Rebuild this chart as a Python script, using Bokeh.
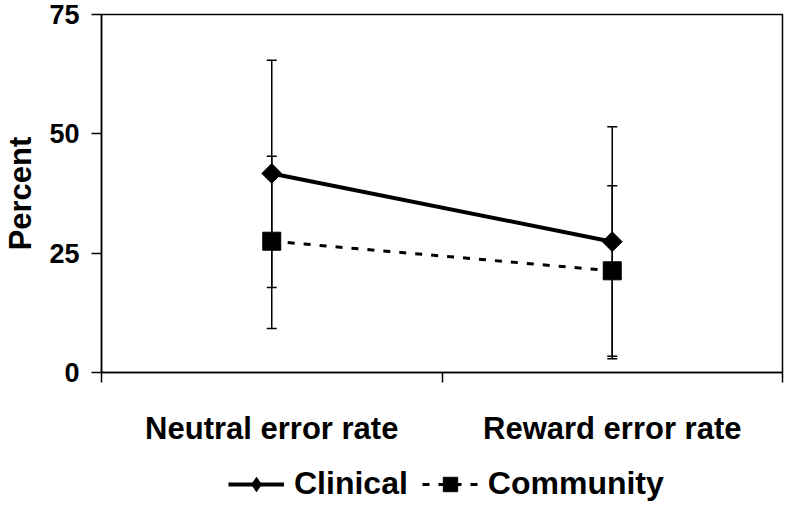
import numpy as np
from bokeh.plotting import figure
from bokeh.layouts import column
from bokeh.models import (Range1d, LinearAxis, FixedTicker, Whisker, TeeHead,
                          ColumnDataSource, Legend, LegendItem)
from bokeh.embed import file_html
from bokeh.resources import INLINE

# ---- data ----
categories = ["Neutral error rate", "Reward error rate"]
series_names = ["Clinical", "Community"]
clinical_mean = [41.7, 27.4]
clinical_upper = [65.4, 51.5]
clinical_lower = [17.8, 3.4]
community_mean = [27.5, 21.3]
community_upper = [45.3, 39.1]
community_lower = [9.2, 2.9]
y_ticks = [0, 25, 50, 75]
y_label = "Percent"

FONT = "Liberation Sans"
n = len(categories)
x_pos = [i + 0.5 for i in range(n)]
boundaries = list(range(n + 1))

W = 784
H_MAIN = 448
H_LEG = 56
FRAME_BOTTOM = 376

p = figure(width=W, height=H_MAIN, output_backend="svg", toolbar_location=None,
           x_range=Range1d(0, n), y_range=Range1d(y_ticks[0], y_ticks[-1]),
           x_axis_location=None,
           min_border_left=100, min_border_top=14, min_border_right=2,
           min_border_bottom=H_MAIN - FRAME_BOTTOM)
p.grid.visible = False
p.outline_line_color = "black"
p.outline_line_width = 1.5
p.background_fill_color = "white"
p.border_fill_color = "white"

# y axis
ya = p.yaxis[0]
ya.ticker = FixedTicker(ticks=y_ticks)
ya.minor_tick_line_color = None
ya.major_tick_out = 10
ya.major_tick_in = 0
ya.axis_line_width = 1.5
ya.major_tick_line_width = 1.5
ya.major_label_text_font = FONT
ya.major_label_text_font_style = "bold"
ya.major_label_text_font_size = "27px"
ya.major_label_text_color = "black"
ya.major_label_standoff = 12
ya.axis_label = y_label
ya.axis_label_text_font = FONT
ya.axis_label_text_font_style = "bold"
ya.axis_label_text_font_size = "31px"
ya.axis_label_text_color = "black"
ya.axis_label_standoff = 8

# x axis: boundary ticks
xa1 = LinearAxis(ticker=FixedTicker(ticks=boundaries),
                 major_label_overrides={b: "" for b in boundaries},
                 major_label_text_font_size="0px", major_label_standoff=0,
                 major_tick_out=10, major_tick_in=0, minor_tick_line_color=None,
                 axis_line_width=1.5, major_tick_line_width=1.5)
p.add_layout(xa1, "below")

# x axis: category labels
xa2 = LinearAxis(ticker=FixedTicker(ticks=x_pos),
                 major_label_overrides={x: c for x, c in zip(x_pos, categories)},
                 major_tick_line_color=None, minor_tick_line_color=None,
                 axis_line_color=None, major_label_standoff=22,
                 major_label_text_font=FONT, major_label_text_font_style="bold",
                 major_label_text_font_size="31px", major_label_text_color="black")
p.add_layout(xa2, "below")

# error bars
for ups, lows in [(clinical_upper, clinical_lower), (community_upper, community_lower)]:
    src = ColumnDataSource(dict(x=x_pos, upper=ups, lower=lows))
    w = Whisker(base="x", upper="upper", lower="lower", source=src,
                line_color="black", line_width=1.5,
                upper_head=TeeHead(size=10, line_width=1.5, line_color="black"),
                lower_head=TeeHead(size=10, line_width=1.5, line_color="black"))
    p.add_layout(w)

STY = [dict(line=dict(line_width=4, line_color="black"),
            mark=dict(marker="square", angle=np.pi / 4, size=14,
                      fill_color="black", line_color="black"),
            legend_marker="diamond"),
       dict(line=dict(line_width=3, line_color="black", line_dash="7 9"),
            mark=dict(marker="square", size=18, fill_color="black", line_color="black"),
            legend_marker="square")]

for means, st in zip([clinical_mean, community_mean], STY):
    p.line(x_pos, means, **st["line"])
    p.scatter(x_pos, means, **st["mark"])

# ---- legend strip (same series, plotted outside its visible range) ----
lf = figure(width=W, height=H_LEG, output_backend="svg", toolbar_location=None,
            x_range=Range1d(0, n), y_range=Range1d(1000, 1001),
            x_axis_location=None, y_axis_location=None, min_border=0)
lf.grid.visible = False
lf.outline_line_color = None
lf.background_fill_color = "white"
lf.border_fill_color = "white"

items = []
for name, means, st in zip(series_names, [clinical_mean, community_mean], STY):
    lr = lf.line(x_pos, means, **st["line"])
    mark = dict(st["mark"])
    mark.pop("angle", None)
    mark["marker"] = st["legend_marker"]
    sr = lf.scatter(x_pos, means, **mark)
    items.append(LegendItem(label=name, renderers=[lr, sr]))

legend = Legend(items=items, orientation="horizontal", location=(127, 2),
                label_text_font=FONT, label_text_font_style="bold",
                label_text_font_size="32px", label_text_color="black",
                glyph_width=56, glyph_height=36, label_standoff=10, spacing=14,
                padding=0, margin=0, border_line_color=None,
                background_fill_alpha=0)
lf.add_layout(legend, "center")

layout = column(p, lf, spacing=0)
open("out.html", "w").write(file_html(layout, INLINE))
